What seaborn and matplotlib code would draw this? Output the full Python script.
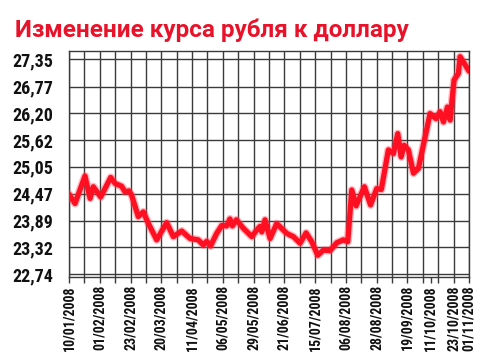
import matplotlib
matplotlib.use("Agg")
import matplotlib.pyplot as plt
import matplotlib.patheffects as pe
import seaborn as sns
import pandas as pd

# position along x in grid cells (each label interval = 2 cells), value = RUB per USD
positions = [0.0, 0.39, 1.04, 1.37, 1.58, 2.06, 2.71, 3.0, 3.42, 3.64, 3.9, 4.07, 4.5, 4.83,
             5.16, 5.70, 6.35, 6.78, 7.33, 7.87, 8.4, 8.73, 8.95, 9.2, 9.6, 9.93, 10.25,
             10.46, 10.62, 10.88, 11.33, 11.88, 12.2, 12.42, 12.53, 12.74, 13.07, 13.5,
             14.15, 14.58, 15.02, 15.41, 15.78, 16.17, 16.53, 16.97, 17.41, 17.83, 18.12,
             18.38, 18.66, 19.2, 19.6, 20.0, 20.3, 20.76, 21.09, 21.37, 21.59, 21.78,
             22.06, 22.39, 22.71, 23.47, 23.86, 24.12, 24.34, 24.6, 24.77, 25.03, 25.31,
             25.42, 25.63, 26.0]
rates = [24.46, 24.26, 24.85, 24.37, 24.62, 24.40, 24.82, 24.69, 24.63, 24.51, 24.53, 24.44,
         23.98, 24.08, 23.83, 23.48, 23.85, 23.55, 23.67, 23.51, 23.48, 23.37, 23.45, 23.35,
         23.62, 23.79, 23.78, 23.93, 23.78, 23.91, 23.73, 23.55, 23.69, 23.77, 23.65, 23.91,
         23.51, 23.83, 23.62, 23.55, 23.41, 23.63, 23.44, 23.15, 23.26, 23.25, 23.42, 23.48,
         23.44, 24.55, 24.21, 24.62, 24.23, 24.58, 24.56, 25.41, 25.33, 25.76, 25.26, 25.51,
         25.41, 24.91, 25.01, 26.19, 26.08, 26.23, 26.01, 26.33, 26.05, 26.91, 27.05, 27.41,
         27.30, 27.10]

y_ticks = [22.74, 23.32, 23.89, 24.47, 25.05, 25.62, 26.20, 26.77, 27.35]
y_tick_labels = ["22,74", "23,32", "23,89", "24,47", "25,05", "25,62", "26,20", "26,77", "27,35"]
x_tick_labels = ["10/01/2008", "01/02/2008", "23/02/2008", "20/03/2008", "11/04/2008",
                 "06/05/2008", "29/05/2008", "21/06/2008", "15/07/2008", "06/08/2008",
                 "28/08/2008", "19/09/2008", "11/10/2008", "23/10/2008", "01/11/2008"]
x_tick_pos = [0, 2, 4, 6, 8, 10, 12, 14, 16, 18, 20, 22, 23.5, 25, 26]
title = "Изменение курса рубля к доллару"

sns.set_style("white")
fam = ["Roboto Condensed", "PT Sans Narrow", "Asap Condensed", "DejaVu Sans"]
plt.rcParams["font.family"] = fam

df = pd.DataFrame({"pos": positions, "rate": rates})

fig = plt.figure(figsize=(5.0, 3.61), dpi=100)
ax = fig.add_axes([0.138, 0.2335, 0.8, 0.625])

# grid
for i in range(27):
    ax.axvline(i, color="#3a3a3a", lw=1.0, zorder=1)
for v in y_ticks:
    ax.axhline(v, color="#3a3a3a", lw=1.0, zorder=1)

sns.lineplot(data=df, x="pos", y="rate", ax=ax, color="#ff0f22", lw=3.8, zorder=3,
             path_effects=[pe.Stroke(linewidth=5.8, foreground="#ff5060", alpha=0.4), pe.Normal()])

ax.set_xlim(0, 26)
ax.set_ylim(22.69, 27.53)
ax.set_yticks(y_ticks)
ax.set_yticklabels(y_tick_labels, fontsize=13, fontweight="bold", color="#111111")
ax.set_xticks(range(27), minor=True)
ax.set_xticks(x_tick_pos)
ax.set_xticklabels(x_tick_labels, rotation=90, fontsize=10, fontweight="bold", color="#111111")
ax.tick_params(axis="x", which="both", length=4, width=1.0, color="#3a3a3a", bottom=True, pad=2)
ax.tick_params(axis="y", length=0, pad=11)
ax.set_xlabel("")
ax.set_ylabel("")
for s in ax.spines.values():
    s.set_visible(True)
    s.set_color("#3a3a3a")
    s.set_linewidth(1.0)

fig.text(0.03, (361 - 36.7) / 361, title, color="#e8132b", fontsize=17.5, fontweight="bold",
         family=["Roboto", "DejaVu Sans"], ha="left", va="baseline")

fig.savefig("out.png", dpi=100, facecolor="white")
